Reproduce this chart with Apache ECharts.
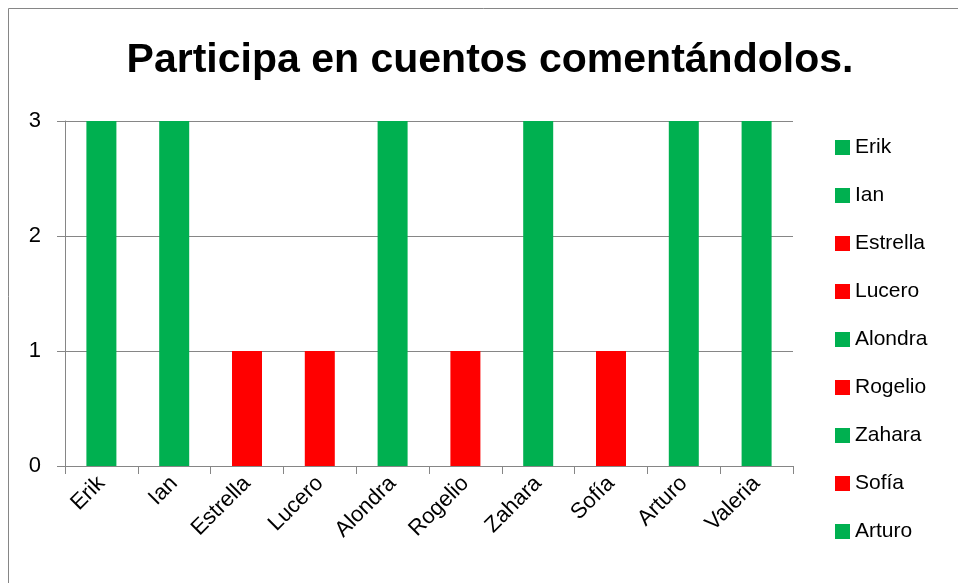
<!DOCTYPE html>
<html>
<head>
<meta charset="utf-8">
<script src="https://cdn.jsdelivr.net/npm/echarts@6/dist/echarts.min.js"></script>
<style>
  html, body { margin: 0; padding: 0; background: #fff; }
  #chart { width: 958px; height: 583px; }
</style>
</head>
<body>
<div id="chart"></div>
<script>
// datos
const alumnos = ["Erik", "Ian", "Estrella", "Lucero", "Alondra", "Rogelio", "Zahara", "Sofía", "Arturo", "Valeria"];
const valores = [3, 3, 1, 1, 3, 1, 3, 1, 3, 3];
const yTicks = [0, 1, 2, 3];
// la leyenda del original solo alcanza a mostrar 9 nombres
const leyenda = alumnos.slice(0, 9);

const VERDE = "#00B050";
const ROJO = "#FF0000";
const fuente = '"Liberation Sans", Arial, sans-serif';

const chart = echarts.init(document.getElementById("chart"));

// una serie por alumno, apiladas para que cada barra quede centrada en su categoría
const series = alumnos.map((nombre, i) => ({
  name: nombre,
  type: "bar",
  stack: "total",
  barWidth: 30,
  itemStyle: { color: valores[i] >= 3 ? VERDE : ROJO },
  emphasis: { disabled: true },
  data: valores.map((v, j) => (j === i ? v : "-")),
}));

chart.setOption({
  animation: false,
  color: valores.map((v) => (v >= 3 ? VERDE : ROJO)),
  title: {
    text: "Participa en cuentos comentándolos.",
    left: 485,
    textAlign: "center",
    top: 35,
    textStyle: { fontFamily: fuente, fontSize: 41, fontWeight: "bold", color: "#000" },
  },
  legend: {
    data: leyenda,
    orient: "vertical",
    left: 830,
    top: 132,
    icon: "rect",
    itemWidth: 15,
    itemHeight: 15,
    itemGap: 27,
    textStyle: { fontFamily: fuente, fontSize: 21, color: "#000" },
  },
  grid: { left: 65, right: 165, top: 121, bottom: 117 },
  xAxis: {
    type: "category",
    data: alumnos,
    boundaryGap: true,
    axisLine: { lineStyle: { color: "#868686", width: 1 } },
    axisTick: { show: true, length: 8, lineStyle: { color: "#868686" } },
    axisLabel: {
      rotate: 45,
      interval: 0,
      margin: 14,
      fontFamily: fuente,
      fontSize: 22,
      color: "#000",
    },
  },
  yAxis: {
    type: "value",
    min: yTicks[0],
    max: yTicks[yTicks.length - 1],
    interval: 1,
    axisLine: { show: true, lineStyle: { color: "#868686", width: 1 } },
    axisTick: { show: true, length: 8, lineStyle: { color: "#868686" } },
    axisLabel: { margin: 24, fontFamily: fuente, fontSize: 22, color: "#000" },
    splitLine: { show: true, lineStyle: { color: "#868686", width: 1 } },
  },
  graphic: [
    {
      type: "rect",
      shape: { x: 8.5, y: 8.5, width: 1200, height: 1200 },
      style: { fill: "none", stroke: "#868686", lineWidth: 1 },
      silent: true,
    },
  ],
  series: series,
});
</script>
</body>
</html>
